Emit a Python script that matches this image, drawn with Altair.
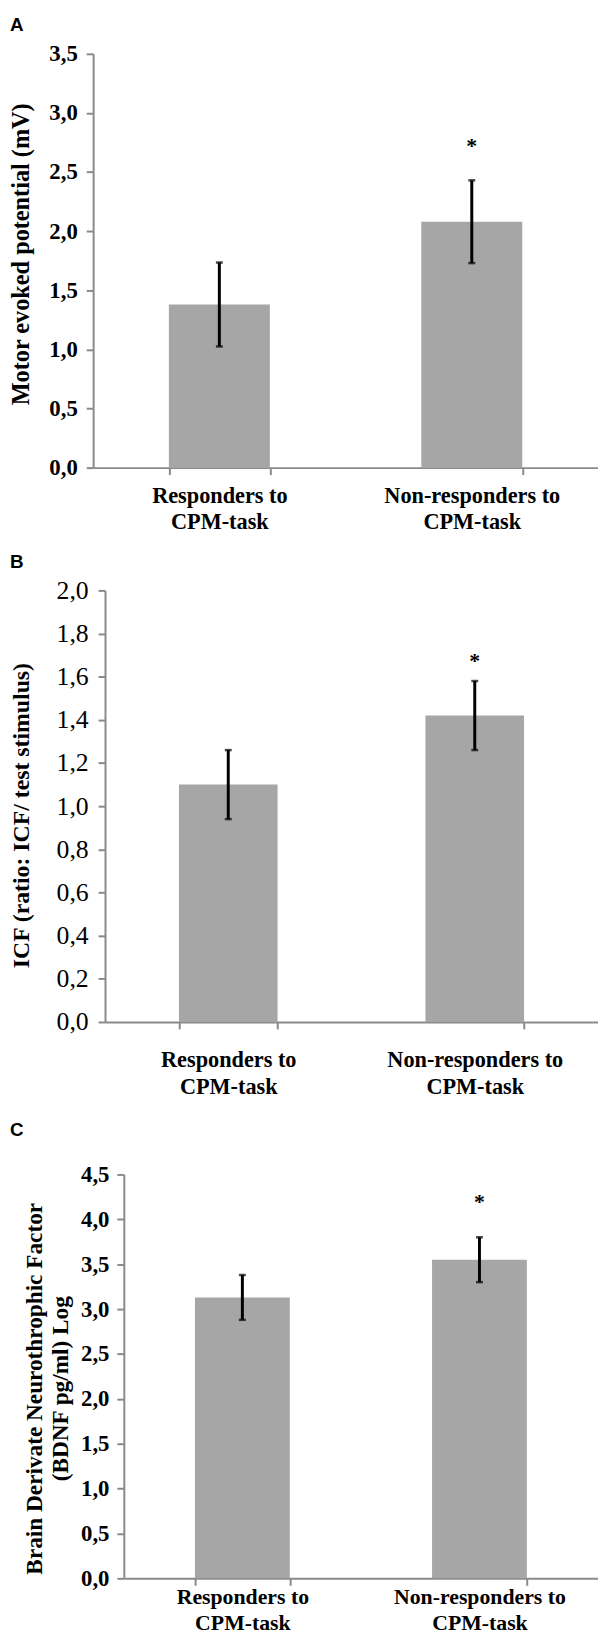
import altair as alt
import pandas as pd

# ---- data ----
groups = ["Responders to|CPM-task", "Non-responders to|CPM-task"]

mep_mean = [1.38, 2.08]
mep_err = [0.355, 0.35]
mep_star = [2.75]

icf_mean = [1.10, 1.42]
icf_err = [0.16, 0.16]
icf_star = [1.69]

bdnf_mean = [3.13, 3.55]
bdnf_err = [0.25, 0.25]
bdnf_star = [4.24]

mep_ticks = [0.0, 0.5, 1.0, 1.5, 2.0, 2.5, 3.0, 3.5]
icf_ticks = [0.0, 0.2, 0.4, 0.6, 0.8, 1.0, 1.2, 1.4, 1.6, 1.8, 2.0]
bdnf_ticks = [0.0, 0.5, 1.0, 1.5, 2.0, 2.5, 3.0, 3.5, 4.0, 4.5]

SERIF = "Liberation Serif"
SANS = "Liberation Sans"
AXC = "#8a8a8a"
BARC = "#a6a6a6"
W = 510


def panel(letter, letter_y, means, errs, star, ticks, ymax, title, title_size,
          title_x, title_y, lab_size, lab_weight, lab_pad, x_lab_size, x_lab_pad,
          axis_off, h_total, top_extra):
    df = pd.DataFrame({"group": groups, "mean": means, "err": errs})
    df["lo"] = df["mean"] - df["err"]
    df["hi"] = df["mean"] + df["err"]
    star_df = pd.DataFrame({"group": [groups[1]], "v": star, "s": ["*"]})
    let_df = pd.DataFrame({"t": [letter]})

    xs = alt.Scale(domain=groups, range=[axis_off, W], paddingInner=0.6, paddingOuter=0.3)
    ys = alt.Scale(domain=[0, ymax], range=[h_total, top_extra], nice=False, zero=True)

    xax = alt.Axis(title=None, labelExpr="split(datum.label, '|')", labelAngle=0,
                   labelFont=SERIF, labelFontWeight="bold", labelFontSize=x_lab_size,
                   labelLineHeight=27, labelPadding=x_lab_pad, labelColor="black",
                   labelLimit=400, tickBand="extent", tickSize=7, tickWidth=2,
                   tickColor=AXC, domainColor=AXC, domainWidth=2, grid=False)
    yax = alt.Axis(values=ticks, labelExpr="replace(format(datum.value, '.1f'), '.', ',')",
                   title=title, titleX=title_x, titleY=title_y, titleAngle=270,
                   titleBaseline="middle", titleAlign="center",
                   titleFont=SERIF, titleFontWeight="bold", titleFontSize=title_size,
                   titleLineHeight=26, titleColor="black",
                   labelFont=SERIF, labelFontWeight=lab_weight, labelFontSize=lab_size,
                   labelColor="black", labelPadding=lab_pad, tickSize=7, tickWidth=2,
                   tickColor=AXC, domainColor=AXC, domainWidth=2, grid=False,
                   offset=-axis_off)

    x = alt.X("group:N", sort=groups, scale=xs, axis=xax)
    base = alt.Chart(df)
    bars = base.mark_bar(color=BARC).encode(x=x, y=alt.Y("mean:Q", scale=ys, axis=yax))
    rule = base.mark_rule(color="black", strokeWidth=3).encode(
        x=x, y=alt.Y("lo:Q", scale=ys), y2="hi:Q")
    cap_lo = base.mark_tick(color="black", thickness=2.5, size=7).encode(
        x=x, y=alt.Y("lo:Q", scale=ys))
    cap_hi = base.mark_tick(color="black", thickness=2.5, size=7).encode(
        x=x, y=alt.Y("hi:Q", scale=ys))
    stars = alt.Chart(star_df).mark_text(font=SERIF, fontWeight="bold", fontSize=22,
                                         baseline="middle", dy=4, color="black").encode(
        x=x, y=alt.Y("v:Q", scale=ys), text="s:N")
    lab = alt.Chart(let_df).mark_text(font=SANS, fontWeight="bold", fontSize=19,
                                      align="left", baseline="top", color="black").encode(
        x=alt.value(-84), y=alt.value(letter_y), text="t:N")
    return alt.layer(bars, rule, cap_lo, cap_hi, stars, lab).properties(
        width=W, height=h_total)


pa = panel("A", -38, mep_mean, mep_err, mep_star, mep_ticks, 3.5,
           "Motor evoked potential (mV)", 24.5, -72, 202, 23, "bold", 9, 22.5, 10,
           0, 418, 0)
pb = panel("B", -14, icf_mean, icf_err, icf_star, icf_ticks, 2.0,
           "ICF (ratio: ICF/ test stimulus)", 24, -84, 251, 26, "normal", 10, 22.5, 20,
           12, 460, 24)
pc = panel("C", 0, bdnf_mean, bdnf_err, bdnf_star, bdnf_ticks, 4.5,
           ["Brain Derivate Neurothrophic Factor", "(BDNF pg/ml) Log"], 23.5, -90, 270,
           23, "bold", 8, 22, 1, 31, 462, 54)

chart = alt.vconcat(pa, pb, pc, spacing=100, bounds="flush").properties(
    padding={"left": 0, "top": 0, "right": 0, "bottom": 0},
    autosize=alt.AutoSizeParams(type="pad")).configure_view(stroke=None)

chart.save("out.html", embed_options={"renderer": "svg", "actions": False})
